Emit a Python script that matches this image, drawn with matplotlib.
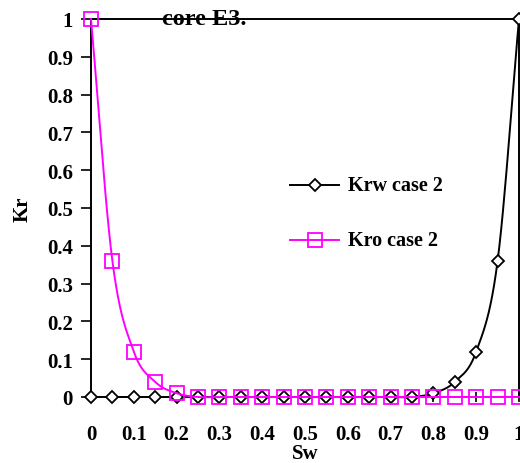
import numpy as np
import matplotlib
matplotlib.use("Agg")
import matplotlib.pyplot as plt

plt.rcParams['font.family'] = ['Liberation Serif', 'DejaVu Serif']
plt.rcParams['font.weight'] = 'bold'

# relative permeability, case 2
sw = [0.0, 0.05, 0.1, 0.15, 0.2, 0.25, 0.3, 0.35, 0.4, 0.45, 0.5,
      0.55, 0.6, 0.65, 0.7, 0.75, 0.8, 0.85, 0.9, 0.95, 1.0]
krw = [0, 0, 0, 0, 0, 0, 0, 0, 0, 0, 0,
       0, 0, 0, 0, 0, 0.01, 0.04, 0.12, 0.36, 1.0]
kro = [1.0, 0.36, 0.12, 0.04, 0.01, 0, 0, 0, 0, 0, 0,
       0, 0, 0, 0, 0, 0, 0, 0, 0, 0]


def smooth(x, y, n=12):
    # catmull-rom curve through the points, like a spreadsheet smoothed line
    x = np.asarray(x, float)
    y = np.asarray(y, float)
    px = np.concatenate([[2 * x[0] - x[1]], x, [2 * x[-1] - x[-2]]])
    py = np.concatenate([[2 * y[0] - y[1]], y, [2 * y[-1] - y[-2]]])
    t = np.linspace(0, 1, n, endpoint=False)
    xs, ys = [], []
    for i in range(1, len(px) - 2):
        for p, out in ((px, xs), (py, ys)):
            p0, p1, p2, p3 = p[i - 1], p[i], p[i + 1], p[i + 2]
            out.extend(0.5 * (2 * p1 + (-p0 + p2) * t
                              + (2 * p0 - 5 * p1 + 4 * p2 - p3) * t ** 2
                              + (-p0 + 3 * p1 - 3 * p2 + p3) * t ** 3))
    xs.append(x[-1])
    ys.append(y[-1])
    return np.array(xs), np.array(ys)


fig = plt.figure(figsize=(5.2, 4.64), dpi=100)
ax = fig.add_axes([91 / 520, 66 / 464, 428 / 520, 378 / 464])

ax.text(0.265, 1.0, 'core E3.', transform=ax.transAxes, ha='center',
        va='center', fontsize=17.5, fontweight='bold', zorder=1)

xs, ys = smooth(sw, krw)
ax.plot(xs, ys, color='black', lw=1.4, clip_on=False, zorder=3)
ax.plot(sw, krw, ls='none', marker='D', ms=6.5, mfc='white', mec='black',
        mew=1.3, clip_on=False, zorder=4)
xs, ys = smooth(sw, kro)
ax.plot(xs, ys, color='#ff00ff', lw=1.4, clip_on=False, zorder=5)
ax.plot(sw, kro, ls='none', marker='s', ms=10, mfc='none', mec='#ff00ff',
        mew=1.3, clip_on=False, zorder=6)

# legend entries
ax.plot([0.465, 0.58], [0.56, 0.56], color='black', lw=1.4, transform=ax.transAxes, clip_on=False)
ax.plot([0.5225], [0.56], marker='D', ms=6.5, mfc='white', mec='black', mew=1.3,
        transform=ax.transAxes, clip_on=False)
ax.text(0.6, 0.56, 'Krw case 2', transform=ax.transAxes, va='center', fontsize=14.5)
ax.plot([0.465, 0.58], [0.415, 0.415], color='#ff00ff', lw=1.4, transform=ax.transAxes, clip_on=False)
ax.plot([0.5225], [0.415], marker='s', ms=10, mfc='none', mec='#ff00ff', mew=1.3,
        transform=ax.transAxes, clip_on=False)
ax.text(0.6, 0.415, 'Kro case 2', transform=ax.transAxes, va='center', fontsize=14.5)

ax.set_xlim(0, 1)
ax.set_ylim(0, 1)
xt = np.round(np.arange(0, 1.01, 0.1), 1)
ax.set_xticks(xt, ['0' if v == 0 else ('1' if v == 1 else f'{v:.1f}') for v in xt])
ax.set_yticks(xt, ['0' if v == 0 else ('1' if v == 1 else f'{v:.1f}') for v in xt])
ax.tick_params(axis='x', direction='inout', length=7, width=1.2, pad=16, labelsize=15)
ax.tick_params(axis='y', direction='out', length=7, width=1.2, pad=6, labelsize=15)
for s in ax.spines.values():
    s.set_linewidth(1.4)
ax.spines['bottom'].set_visible(False)
ax.axhline(0, color='black', lw=1.4, zorder=2)

ax.set_xlabel('Sw', fontsize=15, fontweight='bold', labelpad=-1)
ax.set_ylabel('Kr', fontsize=15, fontweight='bold', labelpad=10)

fig.savefig('out.png', dpi=100)
